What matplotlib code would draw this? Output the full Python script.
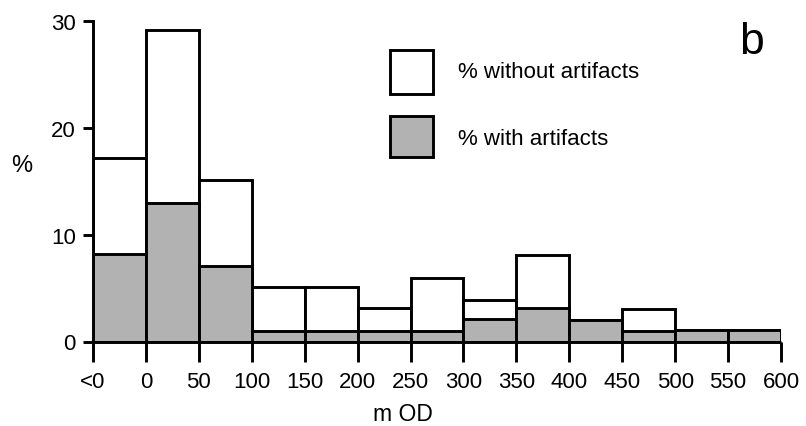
import matplotlib
matplotlib.use("Agg")
import matplotlib.pyplot as plt
from matplotlib.patches import Rectangle
import numpy as np

plt.rcParams['font.family'] = ['Liberation Sans', 'DejaVu Sans']

# Data
tick_labels = ['<0', '0', '50', '100', '150', '200', '250', '300', '350',
               '400', '450', '500', '550', '600']
total_pct = [17.2, 29.2, 15.1, 5.1, 5.1, 3.1, 5.9, 3.9, 8.1, 2.0, 3.0, 1.1, 1.1]
with_artifacts_pct = [8.2, 13.0, 7.1, 1.0, 1.0, 1.0, 1.0, 2.1, 3.1, 2.0, 1.0, 1.1, 1.1]

W, H = 806, 427
fig = plt.figure(figsize=(W / 100, H / 100), dpi=100)
y0_px, y30_px = 342.5, 22
ax = fig.add_axes([93 / W, (H - y0_px) / H, (781 - 93) / W, (y0_px - y30_px) / H])

lw = 2.1
n = len(total_pct)
x = np.arange(n)
ax.bar(x, total_pct, width=1.0, align='edge', color='white', edgecolor='black',
       linewidth=lw, zorder=2)
ax.bar(x, with_artifacts_pct, width=1.0, align='edge', color='#b2b2b2',
       edgecolor='black', linewidth=lw, zorder=3)
ax.plot([0, n], [0, 0], color='black', lw=lw, zorder=4, clip_on=False,
        solid_capstyle='butt')

ax.set_xlim(0, n)
ax.set_ylim(0, 30)
for s in ['top', 'right']:
    ax.spines[s].set_visible(False)
ax.spines['bottom'].set_visible(False)
ax.spines['left'].set_linewidth(lw)

ax.set_xticks(np.arange(n + 1))
ax.set_xticklabels(tick_labels)
ax.set_yticks([0, 10, 20, 30])
ax.tick_params(axis='x', length=14.5, width=lw, pad=7, labelsize=16)
ax.tick_params(axis='y', length=7.5, width=lw, pad=5, labelsize=16)

ax.set_ylabel('%', rotation=0, fontsize=17)
ax.yaxis.set_label_coords((22 - 93) / 688, (y0_px - 166) / (y0_px - y30_px))
ax.yaxis.label.set_verticalalignment('center')
ax.set_xlabel('m OD', fontsize=16.5)
ax.xaxis.set_label_coords((403 - 93) / 688, (y0_px - 415) / (y0_px - y30_px))
ax.xaxis.label.set_verticalalignment('center')

# panel letter
fig.text(751 / W, 1 - 43 / H, 'b', fontsize=32, ha='center', va='center')

# legend
fig.patches.append(Rectangle((390 / W, 1 - 95 / H), 43 / W, 44 / H,
                             transform=fig.transFigure, facecolor='white',
                             edgecolor='black', linewidth=lw))
fig.patches.append(Rectangle((390 / W, 1 - 158 / H), 43 / W, 41 / H,
                             transform=fig.transFigure, facecolor='#b2b2b2',
                             edgecolor='black', linewidth=lw))
fig.text(458 / W, 1 - 72 / H, '% without artifacts', fontsize=16, va='center', ha='left')
fig.text(458 / W, 1 - 140 / H, '% with artifacts', fontsize=16, va='center', ha='left')

fig.savefig('out.png', dpi=100)
